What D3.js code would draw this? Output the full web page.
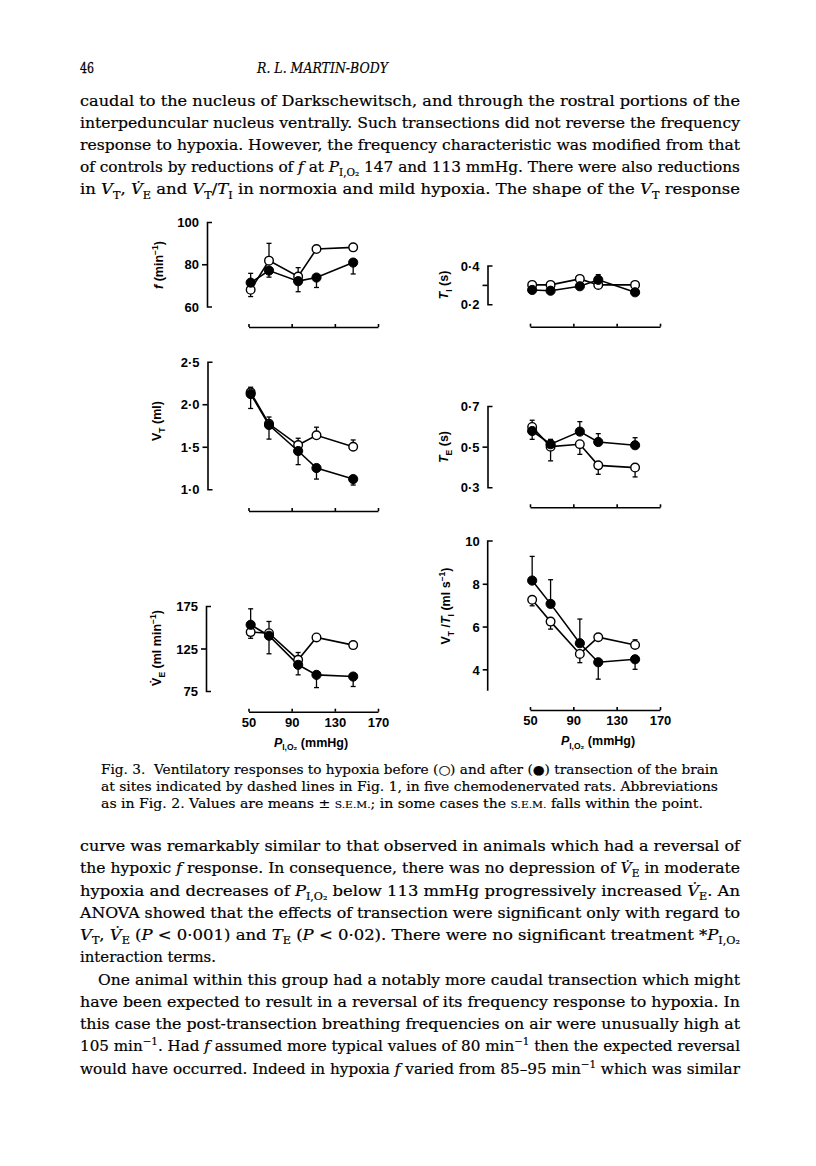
<!DOCTYPE html>
<html><head><meta charset="utf-8">
<script src="https://cdn.jsdelivr.net/npm/d3@7"></script>
<style>body{margin:0;background:#fff} text{white-space:pre}</style>
</head><body><svg id="page" width="816" height="1166"></svg>
<script>
// ---------------- DATA ----------------
const PIO2 = [52, 69, 96, 113, 147];          // inspired PO2 (mmHg)
const xTicks = [50, 90, 130, 170];
// signed s.e.m.: + bar drawn upward, - bar drawn downward, 0 none

// f (min-1)
const fBefore = [67.9, 81.7, 74.2, 87.2, 88.0];
const fBeforeSem = [-3.2, 8.2, 4.2, 0, 0];
const fAfter = [71.3, 77.0, 72.0, 73.7, 80.8];
const fAfterSem = [4.4, -3.1, -5.0, -4.7, -5.4];
const fTicks = [60, 80, 100];
const fTickLabels = ['60', '80', '100'];

// TI (s)
const tiBefore = [0.300, 0.300, 0.331, 0.300, 0.300];
const tiBeforeSem = [0, 0, 0, 0, 0];
const tiAfter = [0.274, 0.270, 0.293, 0.326, 0.262];
const tiAfterSem = [0, 0, 0, 0.027, 0];
const tiTicks = [0.2, 0.3, 0.4];
const tiTickLabels = ['0·2', '', '0·4'];

// VT (ml)
const vtBefore = [2.14, 1.77, 1.52, 1.635, 1.50];
const vtBeforeSem = [0.06, 0.08, 0.08, 0.095, 0.08];
const vtAfter = [2.12, 1.756, 1.45, 1.25, 1.12];
const vtAfterSem = [-0.17, -0.166, -0.16, -0.13, -0.07];
const vtTicks = [1.0, 1.5, 2.0, 2.5];
const vtTickLabels = ['1·0', '1·5', '2·0', '2·5'];

// TE (s)
const teBefore = [0.597, 0.500, 0.512, 0.408, 0.397];
const teBeforeSem = [0.033, -0.07, -0.05, -0.044, -0.046];
const teAfter = [0.577, 0.512, 0.574, 0.523, 0.507];
const teAfterSem = [-0.041, 0.024, 0.049, 0.041, 0.037];
const teTicks = [0.3, 0.5, 0.7];
const teTickLabels = ['0·3', '0·5', '0·7'];

// VE (ml min-1)
const veBefore = [144.3, 143.0, 111.7, 138.0, 129.0];
const veBeforeSem = [-7.3, 13.8, 8.6, 0, 0];
const veAfter = [152.9, 140.0, 105.8, 94.0, 92.0];
const veAfterSem = [18.8, -21.2, -11.8, -15.0, -11.7];
const veTicks = [75, 125, 175];
const veTickLabels = ['75', '125', '175'];

// VT/TI (ml s-1)
const vtiBefore = [7.25, 6.23, 4.72, 5.50, 5.14];
const vtiBeforeSem = [-0.28, -0.35, -0.41, 0, 0.24];
const vtiAfter = [8.15, 7.06, 5.22, 4.33, 4.47];
const vtiAfterSem = [1.13, 1.13, 1.13, -0.79, -0.47];
const vtiTicks = [4, 6, 8, 10];
const vtiTickLabels = ['4', '6', '8', '10'];

// ---------------- TEXT ----------------
const headerNum = '46';
const headerTitle = 'R. L. MARTIN-BODY';
const topLines = [
  'caudal to the nucleus of Darkschewitsch, and through the rostral portions of the',
  'interpeduncular nucleus ventrally. Such transections did not reverse the frequency',
  'response to hypoxia. However, the frequency characteristic was modified from that',
  'of controls by reductions of *f* at *P*_{I,O₂} 147 and 113 mmHg. There were also reductions',
  'in *V*_{T}, *V̇*_{E} and *V*_{T}/*T*_{I} in normoxia and mild hypoxia. The shape of the *V*_{T} response'
];
const captionLines = [
  'Fig. 3.  Ventilatory responses to hypoxia before (○) and after (●) transection of the brain',
  'at sites indicated by dashed lines in Fig. 1, in five chemodenervated rats. Abbreviations',
  'as in Fig. 2. Values are means ± ~{S.E.M.}; in some cases the ~{S.E.M.} falls within the point.'
];
const bottomLines = [
  'curve was remarkably similar to that observed in animals which had a reversal of',
  'the hypoxic *f* response. In consequence, there was no depression of *V̇*_{E} in moderate',
  'hypoxia and decreases of *P*_{I,O₂} below 113 mmHg progressively increased *V̇*_{E}. An',
  'ANOVA showed that the effects of transection were significant only with regard to',
  '*V*_{T}, *V̇*_{E} (*P* < 0·001) and *T*_{E} (*P* < 0·02). There were no significant treatment \\**P*_{I,O₂}',
  'interaction terms.',
  'One animal within this group had a notably more caudal transection which might',
  'have been expected to result in a reversal of its frequency response to hypoxia. In',
  'this case the post-transection breathing frequencies on air were unusually high at',
  '105 min^{−1}. Had *f* assumed more typical values of 80 min^{−1} then the expected reversal',
  'would have occurred. Indeed in hypoxia *f* varied from 85–95 min^{−1} which was similar'
];

// ---------------- RENDER ----------------
const svg = d3.select('#page');
svg.append('rect').attr('width', 816).attr('height', 1166).attr('fill', '#fff');

function parse(m) {
  const segs = []; let italic = false; let buf = ''; let i = 0;
  const flush = () => { if (buf) segs.push({text: buf, italic, mode: 'n'}); buf = ''; };
  while (i < m.length) {
    const c = m[i];
    if (c === '\\') { buf += m[i + 1]; i += 2; }
    else if (c === '*') { flush(); italic = !italic; i++; }
    else if ((c === '_' || c === '^' || c === '~') && m[i + 1] === '{') {
      flush();
      const j = m.indexOf('}', i);
      segs.push({text: m.slice(i + 2, j), italic: false, mode: c === '_' ? 'sub' : c === '^' ? 'sup' : 'sc'});
      i = j + 1;
    } else { buf += c; i++; }
  }
  flush();
  return segs;
}

function rich(parent, markup, o) {
  const t = parent.append('text')
    .attr('x', o.x).attr('y', o.y)
    .attr('font-family', o.family).attr('font-size', o.size)
    .attr('font-weight', o.weight || 'normal')
    .attr('text-anchor', o.anchor || 'start')
    .attr('fill', '#000');
  if (o.stroke) t.attr('stroke', '#000').attr('stroke-width', o.stroke);
  if (o.rotate) t.attr('transform', `rotate(-90,${o.x},${o.y})`);
  let cur = 0;
  parse(markup).forEach(s => {
    const shift = s.mode === 'sub' ? o.size * 0.28 : s.mode === 'sup' ? -o.size * 0.4 : 0;
    const sz = (s.mode === 'sub' || s.mode === 'sup') ? o.size * 0.68 : s.mode === 'sc' ? o.size * 0.76 : o.size;
    t.append('tspan').attr('dy', shift - cur).attr('font-size', sz)
      .attr('font-style', s.italic ? 'italic' : 'normal').text(s.text);
    cur = shift;
  });
  if (o.width) t.attr('textLength', o.width).attr('lengthAdjust', 'spacingAndGlyphs');
  return t;
}

const SERIF = "'DejaVu Serif', serif";
const SANS = "'Liberation Sans', Arial, sans-serif";
const BODY = 15, BSTROKE = 0.2;

// header
rich(svg, headerNum, {x: 80, y: 73, family: SERIF, size: 15, stroke: 0.3, width: 14});
rich(svg, '*' + headerTitle + '*', {x: 257, y: 73, family: SERIF, size: 15, stroke: 0.2, width: 131});

// top paragraph
topLines.forEach((l, i) => rich(svg, l, {x: 80, y: 105.5 + i * 22.2, family: SERIF, size: BODY, stroke: BSTROKE, width: 660}));

// caption
captionLines.forEach((l, i) => rich(svg, l, {x: 101, y: 774 + i * 17, family: SERIF, size: 12.5, stroke: 0.15, width: i < 2 ? 617 : 602}));

// bottom text
bottomLines.forEach((l, i) => {
  const indent = i === 6 ? 18 : 0;
  const w = i === 5 ? 136 : 660 - indent;
  rich(svg, l, {x: 80 + indent, y: 851 + i * 22.25, family: SERIF, size: BODY, stroke: BSTROKE, width: w});
});

// ---------------- CHART PANELS ----------------
function panel(c) {
  const g = svg.append('g');
  const x = d3.scaleLinear().domain([50, 170]).range(c.xr);
  const y = d3.scaleLinear().domain(c.yd).range(c.yr);
  const lw = 1.6;

  // y axis
  const ya = g.append('g').attr('transform', `translate(${c.ax},0)`)
    .call(d3.axisLeft(y).tickValues(c.ticks).tickFormat((d, i) => c.labels[i])
      .tickSizeInner(5).tickSizeOuter(-5).tickPadding(3));
  ya.select('.domain').attr('stroke-width', lw).attr('stroke', '#000');
  if (c.noBottomCap) ya.select('.domain').attr('d', `M5,${y(c.yd[1])}H0V${y(c.yd[0])}`);
  ya.selectAll('.tick line').attr('stroke-width', lw).attr('stroke', '#000')
    .filter(d => d === c.yd[0] || d === c.yd[1]).attr('x2', 0);
  ya.selectAll('.tick text').attr('font-family', SANS).attr('font-size', 13)
    .attr('font-weight', 'bold').attr('fill', '#000').attr('dy', '0.36em');

  // x axis
  const xa = g.append('g').attr('transform', `translate(0,${c.xy})`)
    .call(d3.axisBottom(x).tickValues(xTicks).tickSizeInner(-3).tickSizeOuter(0).tickPadding(6)
      .tickFormat(c.xlabels ? d3.format('d') : () => ''));
  xa.select('.domain').attr('stroke-width', lw).attr('stroke', '#000');
  xa.selectAll('.tick line').attr('stroke-width', lw).attr('stroke', '#000');
  xa.selectAll('.tick text').attr('font-family', SANS).attr('font-size', 13)
    .attr('font-weight', 'bold').attr('fill', '#000');

  if (c.xlabels) {
    rich(g, '*P*_{I,O₂} (mmHg)', {x: c.xlx, y: c.xy + 35, family: SANS, size: 12.5, weight: 'bold', anchor: 'middle'});
  }
  // y label
  rich(g, c.ylabel, {x: c.lx, y: c.ly, family: SANS, size: 12.5, weight: 'bold', anchor: 'middle', rotate: true});

  const line = d3.line().x((d, i) => x(PIO2[i])).y(d => y(d));
  [c.before, c.after].forEach(vals => {
    g.append('path').attr('d', line(vals)).attr('fill', 'none').attr('stroke', '#000').attr('stroke-width', lw);
  });
  // error bars
  [[c.before, c.beforeSem], [c.after, c.afterSem]].forEach(([vals, sem]) => {
    vals.forEach((v, i) => {
      if (!sem[i]) return;
      const xp = x(PIO2[i]), y0 = y(v), y1 = y(v + sem[i]);
      g.append('line').attr('x1', xp).attr('x2', xp).attr('y1', y0).attr('y2', y1)
        .attr('stroke', '#000').attr('stroke-width', 1.3);
      g.append('line').attr('x1', xp - 2.5).attr('x2', xp + 2.5).attr('y1', y1).attr('y2', y1)
        .attr('stroke', '#000').attr('stroke-width', 1.3);
    });
  });
  // markers
  g.selectAll('.open').data(c.before).enter().append('circle')
    .attr('cx', (d, i) => x(PIO2[i])).attr('cy', d => y(d)).attr('r', 4.3)
    .attr('fill', '#fff').attr('stroke', '#000').attr('stroke-width', 1.4);
  g.selectAll('.filled').data(c.after).enter().append('circle')
    .attr('cx', (d, i) => x(PIO2[i])).attr('cy', d => y(d)).attr('r', 4.6)
    .attr('fill', '#000').attr('stroke', '#000').attr('stroke-width', 1);
}

const LX = [248.5, 378], RX = [530, 660];

panel({xr: LX, ax: 207, yd: [60, 100], yr: [306.5, 222], ticks: fTicks, labels: fTickLabels, xy: 327,
  before: fBefore, beforeSem: fBeforeSem, after: fAfter, afterSem: fAfterSem,
  ylabel: '*f* (min^{−1})', lx: 163, ly: 265});
panel({xr: RX, ax: 487.5, yd: [0.2, 0.4], yr: [304.3, 265.5], ticks: tiTicks, labels: tiTickLabels, xy: 326.7,
  before: tiBefore, beforeSem: tiBeforeSem, after: tiAfter, afterSem: tiAfterSem,
  ylabel: '*T*_{I} (s)', lx: 448, ly: 285});
panel({xr: LX, ax: 207.5, yd: [1.0, 2.5], yr: [489.3, 361.7], ticks: vtTicks, labels: vtTickLabels, xy: 511,
  before: vtBefore, beforeSem: vtBeforeSem, after: vtAfter, afterSem: vtAfterSem,
  ylabel: 'V_{T} (ml)', lx: 161, ly: 421});
panel({xr: RX, ax: 487.5, yd: [0.3, 0.7], yr: [487.3, 406], ticks: teTicks, labels: teTickLabels, xy: 507.3,
  before: teBefore, beforeSem: teBeforeSem, after: teAfter, afterSem: teAfterSem,
  ylabel: '*T*_{E} (s)', lx: 448, ly: 447});
panel({xr: LX, ax: 206, yd: [75, 175], yr: [691, 606], ticks: veTicks, labels: veTickLabels, xy: 711.7, xlabels: true, xlx: 311,
  before: veBefore, beforeSem: veBeforeSem, after: veAfter, afterSem: veAfterSem,
  ylabel: 'V̇_{E} (ml min^{−1})', lx: 161, ly: 648});
panel({xr: RX, ax: 487.7, yd: [3, 10], yr: [690.7, 541], ticks: vtiTicks, labels: vtiTickLabels, xy: 710, xlabels: true, xlx: 598, noBottomCap: true,
  before: vtiBefore, beforeSem: vtiBeforeSem, after: vtiAfter, afterSem: vtiAfterSem,
  ylabel: 'V_{T} /*T*_{I} (ml s^{−1})', lx: 450, ly: 606});
</script>
</body></html>
